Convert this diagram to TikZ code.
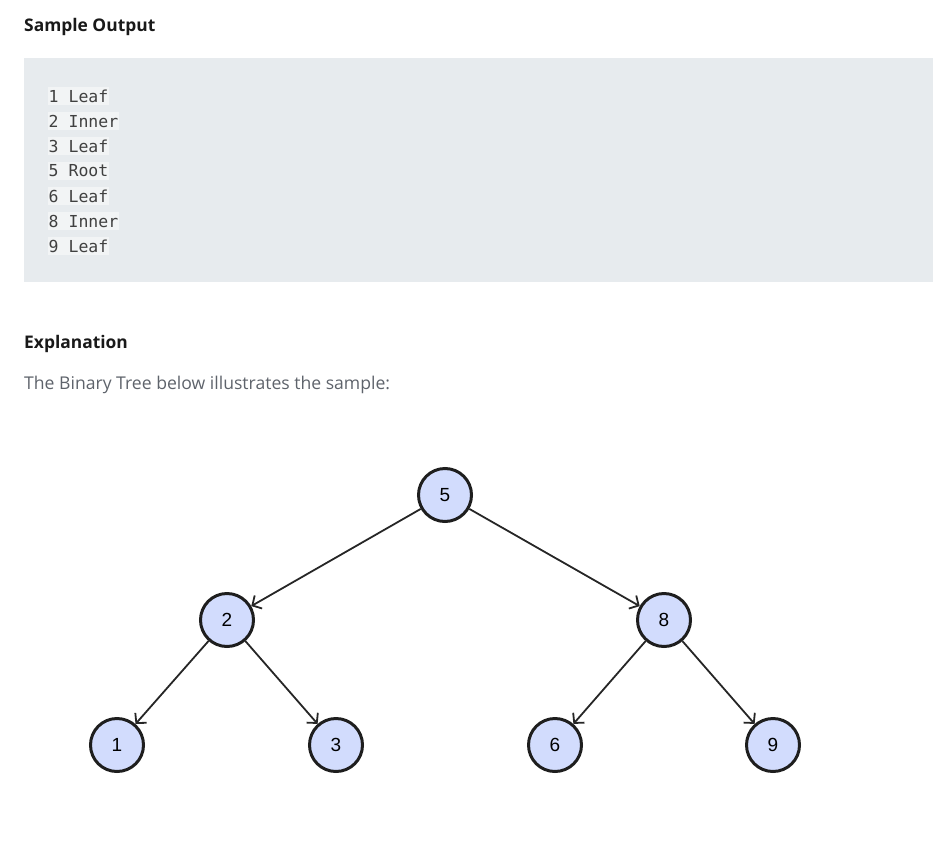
\documentclass[tikz,border=0pt]{standalone}
\usepackage{fontspec}
\setmainfont{Open Sans}
\setmonofont{DejaVu Sans Mono}
\newfontfamily\nodefont{Liberation Sans}
\usetikzlibrary{arrows.meta,positioning}
\definecolor{codebg}{HTML}{E7EBEE}
\definecolor{linebg}{HTML}{F2F4F5}
\definecolor{bodytext}{HTML}{5E636B}
\definecolor{nodefill}{HTML}{D2DCFD}
\definecolor{nodeline}{HTML}{1E1E1E}
\tikzset{
	heading/.style={anchor=west,inner sep=0pt,font=\fontsize{17.4}{20}\selectfont\bfseries,text=black!90},
	codeline/.style={anchor=west,fill=linebg,inner xsep=0.5pt,inner ysep=3pt,font=\fontsize{16.5}{20}\ttfamily,text=black!75},
	vertex/.style={circle,draw=nodeline,line width=3pt,fill=nodefill,minimum size=53pt,inner sep=0pt,font=\nodefont\fontsize{19}{20}\selectfont},
	edge/.style={-{Straight Barb[length=7pt,width=15pt]},line width=1.8pt,draw=black!85}
}
\begin{document}
\begin{tikzpicture}[x=1pt,y=-1pt]
			\useasboundingbox (0,0) rectangle (933,848);
			\node[heading] (title) at (24,27) {Sample Output};
			\fill[codebg] (24,58) rectangle (933,282);
			\node[codeline] (l1) at (48,96) {1 Leaf};
			\node[codeline] (l2) at (48,121) {2 Inner};
			\node[codeline] (l3) at (48,146) {3 Leaf};
			\node[codeline] (l4) at (48,171) {5 Root};
			\node[codeline] (l5) at (48,196) {6 Leaf};
			\node[codeline] (l6) at (48,221) {8 Inner};
			\node[codeline] (l7) at (48,246) {9 Leaf};
			\node[heading] (expl) at (24,344) {Explanation};
			\node[anchor=west,inner sep=0pt,font=\fontsize{17.6}{20}\selectfont,text=bodytext] (desc) at (24,385) {The Binary Tree below illustrates the sample:};
			
			\node[vertex] (n5) at (445,495) {5};
			\node[vertex] (n2) at (227,620) {2};
			\node[vertex] (n8) at (664,620) {8};
			\node[vertex] (n1) at (117,745) {1};
			\node[vertex] (n3) at (336,745) {3};
			\node[vertex] (n6) at (555,745) {6};
			\node[vertex] (n9) at (773,745) {9};
			
			\draw[edge] (n5) -- (n2);
			\draw[edge] (n5) -- (n8);
			\draw[edge] (n2) -- (n1);
			\draw[edge] (n2) -- (n3);
			\draw[edge] (n8) -- (n6);
			\draw[edge] (n8) -- (n9);
		\end{tikzpicture}
\end{document}
